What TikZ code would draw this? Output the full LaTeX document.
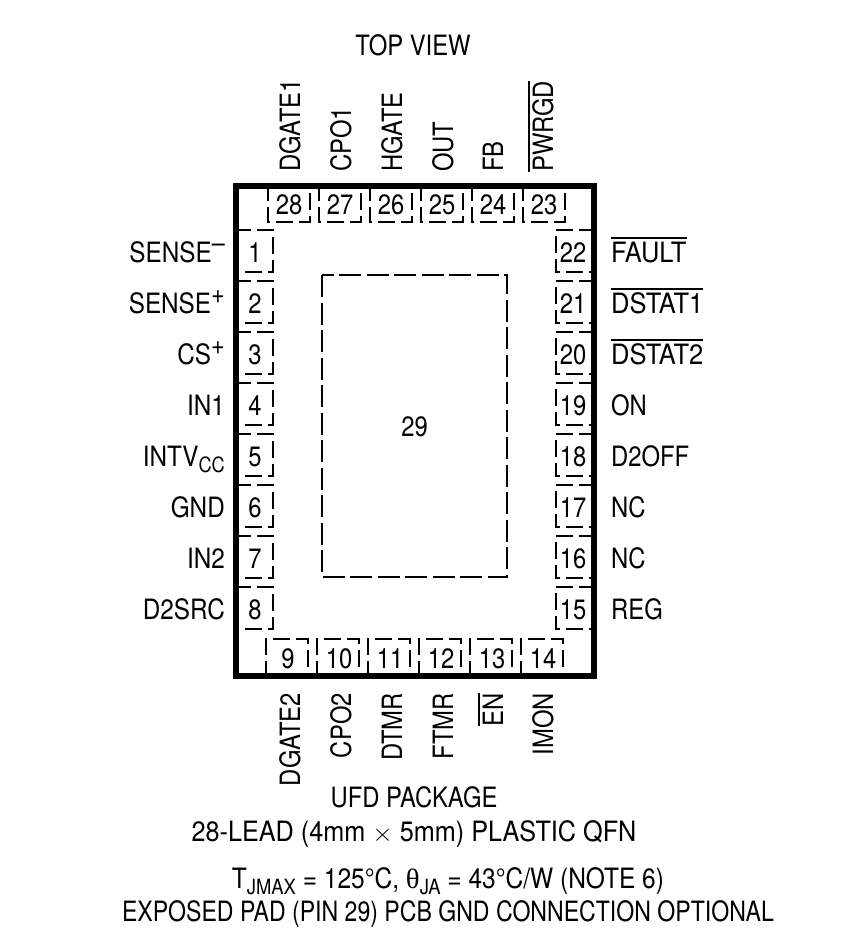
\documentclass[tikz,border=0pt]{standalone}
\usepackage{amsmath}
\usepackage{fontspec}
\setmainfont[FakeStretch=0.85]{TeX Gyre Heros}
\newfontfamily\greekfont{Liberation Serif}
\usepackage{tikz}
\tikzstyle{pinline} = [line width=1.6pt, dash pattern=on 17pt off 6pt, dash phase=4pt]
\tikzstyle{padline} = [line width=1.6pt, dash pattern=on 22pt off 5.5pt]
\tikzstyle{pinnum} = [inner sep=0pt, anchor=base]
\tikzstyle{lefttext} = [inner sep=0pt, anchor=base east, xscale=1.02]
\tikzstyle{righttext} = [inner sep=0pt, anchor=base west]
\tikzstyle{toptext} = [inner sep=0pt, rotate=90, anchor=base west]
\tikzstyle{bottext} = [inner sep=0pt, rotate=90, anchor=base east]
\tikzstyle{capt} = [inner sep=0pt, anchor=base]
\newcommand{\lowtext}[1]{\raisebox{-0.22em}{\fontsize{21}{21}\selectfont #1}}
\newcommand{\hightext}[1]{\raisebox{0.34em}{\fontsize{27}{27}\selectfont #1}}
\newcommand{\barred}[1]{\setbox0\hbox{#1}\rlap{\rule[23pt]{\wd0}{1.8pt}}\box0}
\begin{document}
\begin{tikzpicture}[x=1pt,y=-1pt,font=\fontsize{28}{30}\selectfont]
\useasboundingbox (0,0) rectangle (842,937);

% Package body
\draw[line width=6pt] (236,186) rectangle (594,676);

% Exposed pad
\draw[padline] (322,275) rectangle (507,577);
\node[capt] (pin29) at (414.5,436) {29};

% Left and right pins
\foreach \n/\y in {1/251,2/302,3/353,4/404,5/455,6/506,7/557,8/608} {
  \draw[pinline] (238,\y-21) -- (273,\y-21) -- (273,\y+21) -- (238,\y+21);
  \node[pinnum] (pin\n) at (255,\y+11) {\n};
}
\foreach \n/\y in {22/251,21/302,20/353,19/404,18/455,17/506,16/557,15/608} {
  \draw[pinline] (592,\y-21) -- (556,\y-21) -- (556,\y+21) -- (592,\y+21);
  \node[pinnum] (pin\n) at (573,\y+11) {\n};
}

% Top and bottom pins
\foreach \n/\x in {28/289,27/340,26/391,25/442,24/493,23/544} {
  \draw[pinline] (\x-21,188) -- (\x-21,222) -- (\x+21,222) -- (\x+21,188);
  \node[pinnum] (pin\n) at (\x,214) {\n};
}
\foreach \n/\x in {9/288,10/339,11/390,12/441,13/492,14/543} {
  \draw[pinline] (\x-22,674) -- (\x-22,639) -- (\x+20,639) -- (\x+20,674);
  \node[pinnum] (pin\n) at (\x,668) {\n};
}

% Left labels
\node[lefttext] (lbl1) at (225,262) {SENSE\hightext{--}};
\node[lefttext] (lbl2) at (225,313) {SENSE\hightext{+}};
\node[lefttext] (lbl3) at (225,364) {CS\hightext{+}};
\node[lefttext] (lbl4) at (225,415) {IN1};
\node[lefttext] (lbl5) at (225,466) {INTV\lowtext{CC}};
\node[lefttext] (lbl6) at (225,517) {GND};
\node[lefttext] (lbl7) at (225,568) {IN2};
\node[lefttext] (lbl8) at (225,619) {D2SRC};

% Right labels
\node[righttext, xscale=1.07] (lbl22) at (611,262) {\barred{FAULT}};
\node[righttext, xscale=1.07] (lbl21) at (611,313) {\barred{DSTAT1}};
\node[righttext, xscale=1.07] (lbl20) at (611,364) {\barred{DSTAT2}};
\node[righttext] (lbl19) at (611,415) {ON};
\node[righttext] (lbl18) at (611,466) {D2OFF};
\node[righttext] (lbl17) at (611,517) {NC};
\node[righttext] (lbl16) at (611,568) {NC};
\node[righttext] (lbl15) at (611,619) {REG};

% Top labels
\node[toptext] (lbl28) at (300,172) {DGATE1};
\node[toptext] (lbl27) at (351,172) {CPO1};
\node[toptext] (lbl26) at (402,172) {HGATE};
\node[toptext] (lbl25) at (453,172) {OUT};
\node[toptext] (lbl24) at (503,172) {FB};
\node[toptext] (lbl23) at (553,172) {\barred{PWRGD}};

% Bottom labels
\node[bottext] (lbl9) at (300,693) {DGATE2};
\node[bottext] (lbl10) at (351,693) {CPO2};
\node[bottext] (lbl11) at (402,693) {DTMR};
\node[bottext] (lbl12) at (453,693) {FTMR};
\node[bottext] (lbl13) at (503,693) {\barred{EN}};
\node[bottext] (lbl14) at (553,693) {IMON};

% Captions
\node[capt] (topview) at (413,55) {TOP VIEW};
\node[capt] (pkg) at (414,807) {UFD PACKAGE};
\node[capt, xscale=1.06] (lead) at (414,841) {28-LEAD (4mm $\times$ 5mm) PLASTIC QFN};
\node[capt, xscale=1.03] (tjmax) at (448,888) {T\lowtext{JMAX} = 125°C, {\greekfont θ}\lowtext{JA} = 43°C/W (NOTE 6)};
\node[capt, xscale=0.97] (expad) at (448,921) {EXPOSED PAD (PIN 29) PCB GND CONNECTION OPTIONAL};
\end{tikzpicture}
\end{document}
